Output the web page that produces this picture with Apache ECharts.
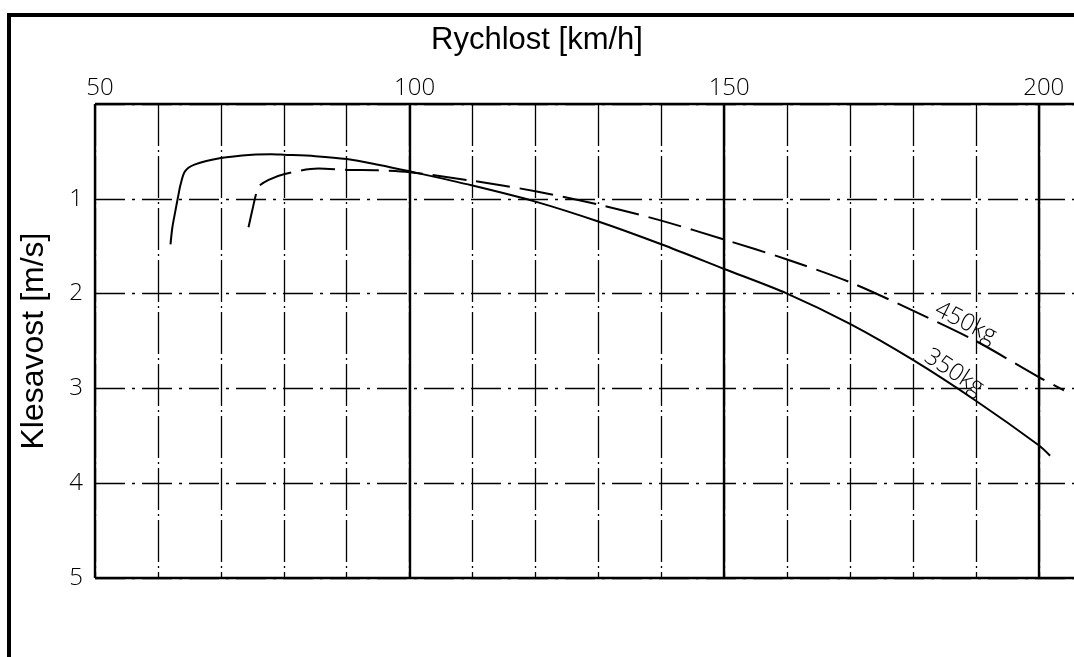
<!DOCTYPE html>
<html>
<head>
<meta charset="utf-8">
<script src="https://cdn.jsdelivr.net/npm/echarts@6/dist/echarts.min.js"></script>
<style>
  html, body { margin: 0; padding: 0; background: #fff; }
  #chart { width: 1074px; height: 657px; }
</style>
</head>
<body>
<div id="chart"></div>
<script>
// Glider sink-rate polars (speed in km/h, sink in m/s)
const speedLabels = [50, 100, 150, 200];
const sinkLabels = [1, 2, 3, 4, 5];

const polar350 = [
  [62.0, 1.48], [62.3, 1.30], [62.8, 1.12], [63.2, 0.98], [63.6, 0.85],
  [64.3, 0.71], [65.8, 0.64], [70, 0.57], [75, 0.535], [78, 0.53],
  [80, 0.535], [85, 0.55], [90, 0.58], [95, 0.64], [100, 0.71],
  [110, 0.86], [120, 1.03], [130, 1.24], [140, 1.48], [150, 1.74],
  [160, 2.00], [170, 2.32], [180, 2.70], [190, 3.13], [200, 3.60],
  [201.8, 3.71]
];

const polar450 = [
  [74.4, 1.30], [75.0, 1.12], [75.6, 0.95], [76.0, 0.87], [77.6, 0.80],
  [80, 0.74], [85.5, 0.68], [90, 0.695], [95, 0.70], [100, 0.72],
  [110, 0.81], [120, 0.92], [130, 1.06], [140, 1.23], [150, 1.43],
  [160, 1.64], [170, 1.88], [180, 2.18], [190, 2.50], [200, 2.88],
  [204, 3.02]
];

const seriesNames = ['350kg', '450kg'];
// speed at which each curve carries its name
const nameSpeeds = [185.5, 187.5];

const tickFont = { fontFamily: 'Open Sans', fontWeight: 300, fontSize: 24, color: '#000' };

const chart = echarts.init(document.getElementById('chart'), null, { renderer: 'canvas' });

const option = {
  animation: false,
  backgroundColor: '#fff',
  title: {
    text: 'Rychlost [km/h]',
    left: 'center',
    top: 20,
    textStyle: { fontFamily: 'Liberation Sans', fontWeight: 'normal', fontSize: 31, color: '#000' }
  },
  grid: { left: 95, top: 104, right: 0, height: 474 },
  xAxis: [
    {
      type: 'value', position: 'top', min: 50, max: 205.6, interval: 10,
      axisLine: { show: false }, axisTick: { show: false },
      axisLabel: Object.assign({ margin: 4, padding: [0, 0, 0, 10], showMaxLabel: false,
        formatter: v => speedLabels.includes(v) ? String(v) : '' }, tickFont),
      splitLine: { showMaxLine: false, lineStyle: { color: '#000', width: 1.3, type: [42, 4, 2, 4] } }
    },
    {
      type: 'value', position: 'top', min: 50, max: 205.6, interval: 50,
      axisLine: { show: false }, axisTick: { show: false }, axisLabel: { show: false },
      splitLine: { showMaxLine: false, lineStyle: { color: '#000', width: 2.4, type: 'solid' } }
    }
  ],
  yAxis: [
    {
      type: 'value', inverse: true, min: 0, max: 5, interval: 1,
      name: 'Klesavost [m/s]', nameLocation: 'middle', nameGap: 45,
      nameTextStyle: { fontFamily: 'Liberation Sans', fontSize: 32, color: '#000' },
      axisLine: { show: false }, axisTick: { show: false },
      axisLabel: Object.assign({ margin: 12, formatter: v => sinkLabels.includes(v) ? String(v) : '' }, tickFont),
      splitLine: { lineStyle: { color: '#000', width: 1.3, type: [30, 7, 3, 7] } }
    },
    {
      type: 'value', inverse: true, min: 0, max: 5, interval: 5, position: 'left',
      axisLine: { show: false }, axisTick: { show: false }, axisLabel: { show: false },
      splitLine: { lineStyle: { color: '#000', width: 2.4, type: 'solid' } }
    }
  ],
  series: [
    {
      name: seriesNames[0], type: 'line', data: polar350, showSymbol: false, smooth: 0.3,
      lineStyle: { color: '#000', width: 2 }, z: 5
    },
    {
      name: seriesNames[1], type: 'line', data: polar450, showSymbol: false, smooth: 0.3,
      lineStyle: { color: '#000', width: 2, type: [34, 10] }, z: 5
    }
  ]
};

chart.setOption(option);

// sink value on a curve at a given speed (linear between neighbouring samples)
function sinkAt(data, v) {
  for (let i = 1; i < data.length; i++) {
    if (data[i][0] >= v) {
      const a = data[i - 1], b = data[i];
      return a[1] + (b[1] - a[1]) * (v - a[0]) / (b[0] - a[0]);
    }
  }
  return data[data.length - 1][1];
}

const curves = [polar350, polar450];
const graphics = [
  {
    type: 'rect', silent: true, z: 100,
    shape: { x: 9, y: 15, width: 1200, height: 800 },
    style: { fill: 'none', stroke: '#000', lineWidth: 4 }
  }
];
curves.forEach((data, i) => {
  const v = nameSpeeds[i];
  const p = chart.convertToPixel({ gridIndex: 0 }, [v, sinkAt(data, v)]);
  const p0 = chart.convertToPixel({ gridIndex: 0 }, [v - 5, sinkAt(data, v - 5)]);
  const p1 = chart.convertToPixel({ gridIndex: 0 }, [v + 5, sinkAt(data, v + 5)]);
  const angle = Math.atan2(p1[1] - p0[1], p1[0] - p0[0]);
  graphics.push({
    type: 'text', silent: true, z: 50,
    x: p[0], y: p[1], rotation: -angle,
    style: {
      text: seriesNames[i], fontFamily: 'Open Sans', fontWeight: 300, fontSize: 24,
      fill: '#000', align: 'center', verticalAlign: 'bottom'
    }
  });
});
chart.setOption({ graphic: graphics });
</script>
</body>
</html>
